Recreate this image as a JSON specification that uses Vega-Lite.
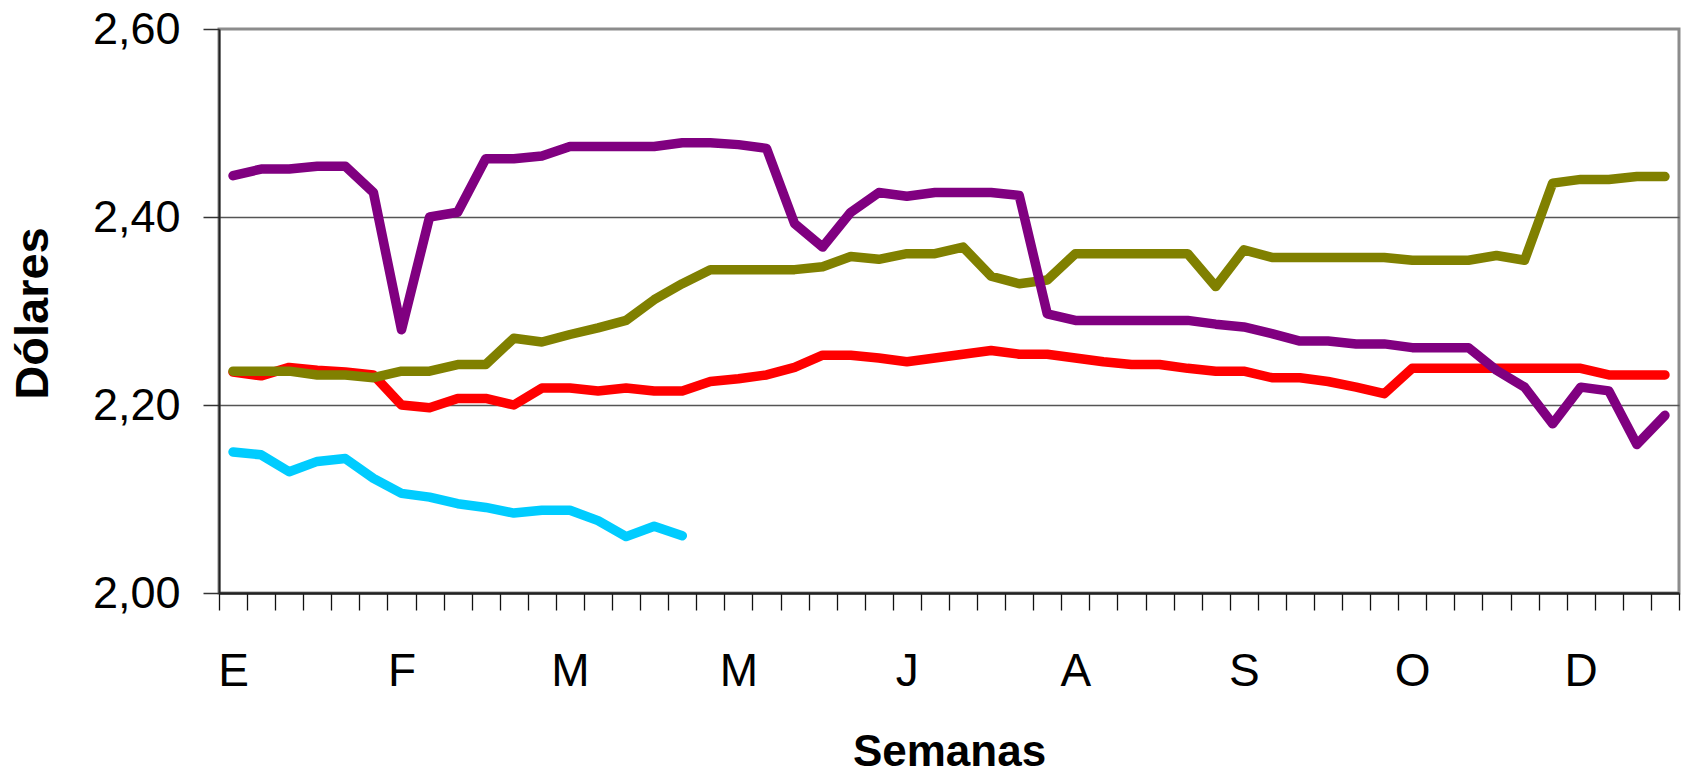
{
  "$schema": "https://vega.github.io/schema/vega-lite/v6.json",
  "autosize": {"type": "none"},
  "padding": {"left": 219, "top": 29, "right": 7, "bottom": 181},
  "width": 1460,
  "height": 564,
  "background": "white",
  "config": {
    "view": {"stroke": "#8c8c8c", "strokeWidth": 3},
    "font": "Liberation Sans"
  },
  "data": {
    "values": [
      {"s":"S1","w":0,"v":2.235},{"s":"S1","w":1,"v":2.231},{"s":"S1","w":2,"v":2.240},{"s":"S1","w":3,"v":2.237},{"s":"S1","w":4,"v":2.235},{"s":"S1","w":5,"v":2.232},{"s":"S1","w":6,"v":2.200},{"s":"S1","w":7,"v":2.197},{"s":"S1","w":8,"v":2.207},{"s":"S1","w":9,"v":2.207},{"s":"S1","w":10,"v":2.200},{"s":"S1","w":11,"v":2.218},{"s":"S1","w":12,"v":2.218},{"s":"S1","w":13,"v":2.215},{"s":"S1","w":14,"v":2.218},{"s":"S1","w":15,"v":2.215},{"s":"S1","w":16,"v":2.215},{"s":"S1","w":17,"v":2.225},{"s":"S1","w":18,"v":2.228},{"s":"S1","w":19,"v":2.232},{"s":"S1","w":20,"v":2.240},{"s":"S1","w":21,"v":2.253},{"s":"S1","w":22,"v":2.253},{"s":"S1","w":23,"v":2.250},{"s":"S1","w":24,"v":2.246},{"s":"S1","w":25,"v":2.250},{"s":"S1","w":26,"v":2.254},{"s":"S1","w":27,"v":2.258},{"s":"S1","w":28,"v":2.254},{"s":"S1","w":29,"v":2.254},{"s":"S1","w":30,"v":2.250},{"s":"S1","w":31,"v":2.246},{"s":"S1","w":32,"v":2.243},{"s":"S1","w":33,"v":2.243},{"s":"S1","w":34,"v":2.239},{"s":"S1","w":35,"v":2.236},{"s":"S1","w":36,"v":2.236},{"s":"S1","w":37,"v":2.229},{"s":"S1","w":38,"v":2.229},{"s":"S1","w":39,"v":2.225},{"s":"S1","w":40,"v":2.219},{"s":"S1","w":41,"v":2.212},{"s":"S1","w":42,"v":2.239},{"s":"S1","w":43,"v":2.239},{"s":"S1","w":44,"v":2.239},{"s":"S1","w":45,"v":2.239},{"s":"S1","w":46,"v":2.239},{"s":"S1","w":47,"v":2.239},{"s":"S1","w":48,"v":2.239},{"s":"S1","w":49,"v":2.232},{"s":"S1","w":50,"v":2.232},{"s":"S1","w":51,"v":2.232},
      {"s":"S2","w":0,"v":2.236},{"s":"S2","w":1,"v":2.236},{"s":"S2","w":2,"v":2.236},{"s":"S2","w":3,"v":2.232},{"s":"S2","w":4,"v":2.232},{"s":"S2","w":5,"v":2.229},{"s":"S2","w":6,"v":2.236},{"s":"S2","w":7,"v":2.236},{"s":"S2","w":8,"v":2.243},{"s":"S2","w":9,"v":2.243},{"s":"S2","w":10,"v":2.271},{"s":"S2","w":11,"v":2.267},{"s":"S2","w":12,"v":2.275},{"s":"S2","w":13,"v":2.282},{"s":"S2","w":14,"v":2.290},{"s":"S2","w":15,"v":2.312},{"s":"S2","w":16,"v":2.329},{"s":"S2","w":17,"v":2.344},{"s":"S2","w":18,"v":2.344},{"s":"S2","w":19,"v":2.344},{"s":"S2","w":20,"v":2.344},{"s":"S2","w":21,"v":2.347},{"s":"S2","w":22,"v":2.358},{"s":"S2","w":23,"v":2.355},{"s":"S2","w":24,"v":2.361},{"s":"S2","w":25,"v":2.361},{"s":"S2","w":26,"v":2.368},{"s":"S2","w":27,"v":2.337},{"s":"S2","w":28,"v":2.329},{"s":"S2","w":29,"v":2.333},{"s":"S2","w":30,"v":2.361},{"s":"S2","w":31,"v":2.361},{"s":"S2","w":32,"v":2.361},{"s":"S2","w":33,"v":2.361},{"s":"S2","w":34,"v":2.361},{"s":"S2","w":35,"v":2.326},{"s":"S2","w":36,"v":2.365},{"s":"S2","w":37,"v":2.357},{"s":"S2","w":38,"v":2.357},{"s":"S2","w":39,"v":2.357},{"s":"S2","w":40,"v":2.357},{"s":"S2","w":41,"v":2.357},{"s":"S2","w":42,"v":2.354},{"s":"S2","w":43,"v":2.354},{"s":"S2","w":44,"v":2.354},{"s":"S2","w":45,"v":2.359},{"s":"S2","w":46,"v":2.354},{"s":"S2","w":47,"v":2.436},{"s":"S2","w":48,"v":2.440},{"s":"S2","w":49,"v":2.440},{"s":"S2","w":50,"v":2.443},{"s":"S2","w":51,"v":2.443},
      {"s":"S3","w":0,"v":2.444},{"s":"S3","w":1,"v":2.451},{"s":"S3","w":2,"v":2.451},{"s":"S3","w":3,"v":2.454},{"s":"S3","w":4,"v":2.454},{"s":"S3","w":5,"v":2.426},{"s":"S3","w":6,"v":2.280},{"s":"S3","w":7,"v":2.400},{"s":"S3","w":8,"v":2.405},{"s":"S3","w":9,"v":2.462},{"s":"S3","w":10,"v":2.462},{"s":"S3","w":11,"v":2.465},{"s":"S3","w":12,"v":2.475},{"s":"S3","w":13,"v":2.475},{"s":"S3","w":14,"v":2.475},{"s":"S3","w":15,"v":2.475},{"s":"S3","w":16,"v":2.479},{"s":"S3","w":17,"v":2.479},{"s":"S3","w":18,"v":2.477},{"s":"S3","w":19,"v":2.473},{"s":"S3","w":20,"v":2.393},{"s":"S3","w":21,"v":2.368},{"s":"S3","w":22,"v":2.405},{"s":"S3","w":23,"v":2.426},{"s":"S3","w":24,"v":2.422},{"s":"S3","w":25,"v":2.426},{"s":"S3","w":26,"v":2.426},{"s":"S3","w":27,"v":2.426},{"s":"S3","w":28,"v":2.423},{"s":"S3","w":29,"v":2.297},{"s":"S3","w":30,"v":2.290},{"s":"S3","w":31,"v":2.290},{"s":"S3","w":32,"v":2.290},{"s":"S3","w":33,"v":2.290},{"s":"S3","w":34,"v":2.290},{"s":"S3","w":35,"v":2.286},{"s":"S3","w":36,"v":2.283},{"s":"S3","w":37,"v":2.276},{"s":"S3","w":38,"v":2.268},{"s":"S3","w":39,"v":2.268},{"s":"S3","w":40,"v":2.265},{"s":"S3","w":41,"v":2.265},{"s":"S3","w":42,"v":2.261},{"s":"S3","w":43,"v":2.261},{"s":"S3","w":44,"v":2.261},{"s":"S3","w":45,"v":2.237},{"s":"S3","w":46,"v":2.219},{"s":"S3","w":47,"v":2.180},{"s":"S3","w":48,"v":2.219},{"s":"S3","w":49,"v":2.215},{"s":"S3","w":50,"v":2.158},{"s":"S3","w":51,"v":2.189},
      {"s":"S4","w":0,"v":2.150},{"s":"S4","w":1,"v":2.147},{"s":"S4","w":2,"v":2.129},{"s":"S4","w":3,"v":2.140},{"s":"S4","w":4,"v":2.143},{"s":"S4","w":5,"v":2.122},{"s":"S4","w":6,"v":2.106},{"s":"S4","w":7,"v":2.102},{"s":"S4","w":8,"v":2.095},{"s":"S4","w":9,"v":2.091},{"s":"S4","w":10,"v":2.085},{"s":"S4","w":11,"v":2.088},{"s":"S4","w":12,"v":2.088},{"s":"S4","w":13,"v":2.077},{"s":"S4","w":14,"v":2.060},{"s":"S4","w":15,"v":2.071},{"s":"S4","w":16,"v":2.061}
    ]
  },
  "mark": {"type": "line", "strokeWidth": 9.5, "strokeCap": "round", "strokeJoin": "round"},
  "encoding": {
    "x": {
      "field": "w",
      "type": "quantitative",
      "scale": {"domain": [-0.5, 51.5], "nice": false, "zero": false},
      "axis": {
        "values": [-0.5,0.5,1.5,2.5,3.5,4.5,5.5,6.5,7.5,8.5,9.5,10.5,11.5,12.5,13.5,14.5,15.5,16.5,17.5,18.5,19.5,20.5,21.5,22.5,23.5,24.5,25.5,26.5,27.5,28.5,29.5,30.5,31.5,32.5,33.5,34.5,35.5,36.5,37.5,38.5,39.5,40.5,41.5,42.5,43.5,44.5,45.5,46.5,47.5,48.5,49.5,50.5,51.5],
        "labelExpr": "((datum.value + 0.5) % 6 == 0 && datum.value < 49) ? ['E','F','M','M','J','A','S','O','D'][(datum.value + 0.5) / 6] : ''",
        "labelOffset": 14,
        "labelPadding": 75,
        "labelBaseline": "alphabetic",
        "labelFontSize": 46,
        "labelFont": "Liberation Sans",
        "labelColor": "#000000",
        "labelFlush": false,
        "labelOverlap": false,
        "labelBound": false,
        "tickSize": 17,
        "tickColor": "#111111",
        "tickWidth": 1.3,
        "domainColor": "#222222",
        "domainWidth": 2.5,
        "grid": false,
        "title": "Semanas",
        "titleFont": "Liberation Sans",
        "titleFontSize": 44,
        "titleFontWeight": "bold",
        "titleColor": "#000000",
        "titleY": 172,
        "titleBaseline": "alphabetic"
      }
    },
    "y": {
      "field": "v",
      "type": "quantitative",
      "scale": {"domain": [2.0, 2.6], "nice": false, "zero": false},
      "axis": {
        "values": [2.0, 2.2, 2.4, 2.6],
        "labelExpr": "replace(format(datum.value, '.2f'), '.', ',')",
        "labelFont": "Liberation Sans",
        "labelFontSize": 45,
        "labelColor": "#000000",
        "labelPadding": 23,
        "tickSize": 16,
        "tickColor": "#333333",
        "tickWidth": 1.5,
        "domainColor": "#222222",
        "domainWidth": 2,
        "grid": true,
        "gridColor": {"condition": {"test": "datum.value > 2.5 || datum.value < 2.1", "value": "rgba(0,0,0,0)"}, "value": "#555555"},
        "gridWidth": 1.3,
        "title": "Dólares",
        "titleFont": "Liberation Sans",
        "titleFontSize": 47,
        "titleFontWeight": "bold",
        "titleColor": "#000000",
        "titleX": -172,
        "titleY": 284,
        "titleAlign": "center",
        "titleBaseline": "alphabetic",
        "titleAngle": -90
      }
    },
    "color": {
      "field": "s",
      "type": "nominal",
      "scale": {"domain": ["S1", "S2", "S3", "S4"], "range": ["#FF0000", "#808000", "#800080", "#00CCFF"]},
      "legend": null
    }
  }
}
